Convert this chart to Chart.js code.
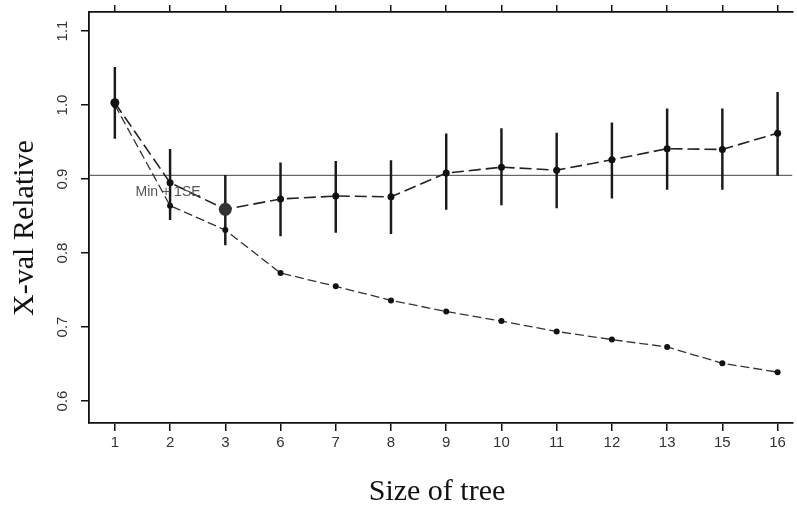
<!DOCTYPE html>
<html>
<head>
<meta charset="utf-8">
<script src="https://cdn.jsdelivr.net/npm/chart.js@4"></script>
<style>
  html, body { margin: 0; padding: 0; background: #fff; }
  #wrap { width: 797px; height: 505px; }
</style>
</head>
<body>
<div id="wrap"><canvas id="cv" width="797" height="505"></canvas></div>
<script>
  // tree sizes (categories on the x axis)
  var treeSizes = ['1', '2', '3', '6', '7', '8', '9', '10', '11', '12', '13', '15', '16'];
  // cross-validated relative error, with the +/- 1 SE bars
  var xvalRel = [1.003, 0.895, 0.859, 0.873, 0.877, 0.876, 0.908, 0.916, 0.912, 0.926, 0.941, 0.940, 0.962];
  var xvalLow = [0.955, 0.845, 0.811, 0.823, 0.828, 0.826, 0.859, 0.865, 0.861, 0.874, 0.886, 0.886, 0.905];
  var xvalHigh = [1.051, 0.940, 0.905, 0.922, 0.924, 0.925, 0.961, 0.968, 0.962, 0.976, 0.995, 0.995, 1.017];
  // resubstitution (apparent) relative error
  var apparentRel = [1.000, 0.864, 0.831, 0.773, 0.755, 0.736, 0.721, 0.708, 0.694, 0.683, 0.673, 0.651, 0.639];
  var minPlus1SE = 0.905;
  var yTicks = [0.6, 0.7, 0.8, 0.9, 1.0, 1.1];

  var xMin = -0.468, xMax = 12.27;
  var yMin = 0.5703, yMax = 1.1257;

  var idx = treeSizes.map(function (s, i) { return i; });
  function pts(arr) { return arr.map(function (v, i) { return { x: i, y: v }; }); }

  var sans = 'Liberation Sans, Arial, sans-serif';
  var serif = 'Liberation Serif, Times New Roman, serif';

  var overlay = {
    id: 'overlay',
    afterDraw: function (chart) {
      var ctx = chart.ctx;
      var ys = chart.scales.y, xs = chart.scales.x;
      ctx.save();
      // rotated y tick labels, R style
      ctx.fillStyle = '#333';
      ctx.font = '15px ' + sans;
      ctx.textAlign = 'center';
      ctx.textBaseline = 'middle';
      yTicks.forEach(function (v) {
        ctx.save();
        ctx.translate(63, ys.getPixelForValue(v));
        ctx.rotate(-Math.PI / 2);
        ctx.fillText(v.toFixed(1), 0, 0);
        ctx.restore();
      });
      // label for the 1-SE rule line
      ctx.fillStyle = '#555';
      ctx.font = '14px ' + sans;
      ctx.fillText('Min + 1SE', xs.getPixelForValue(1) - 2, ys.getPixelForValue(minPlus1SE - 0.023));

      // axis titles
      ctx.fillStyle = '#111';
      ctx.font = '30px ' + serif;
      ctx.textBaseline = 'alphabetic';
      ctx.fillText('Size of tree', 437, 500);
      ctx.save();
      ctx.translate(33, 228);
      ctx.rotate(-Math.PI / 2);
      ctx.fillText('X-val Relative', 0, 0);
      ctx.restore();
      ctx.restore();
    }
  };

  var ctx = document.getElementById('cv').getContext('2d');
  new Chart(ctx, {
    type: 'line',
    data: {
      datasets: [
        {
          type: 'line',
          data: pts(xvalRel),
          borderColor: '#222',
          borderWidth: 1.6,
          borderDash: [12, 5],
          pointRadius: [4.5, 3.5, 6.5, 3.5, 3.5, 3.5, 3.5, 3.5, 3.5, 3.5, 3.5, 3.5, 3.5],
          pointBackgroundColor: ['#111', '#111', '#333', '#111', '#111', '#111', '#111', '#111', '#111', '#111', '#111', '#111', '#111'],
          pointBorderWidth: 0,
          tension: 0,
          order: 1
        },
        {
          type: 'line',
          data: pts(apparentRel),
          borderColor: '#333',
          borderWidth: 1.3,
          borderDash: [9, 4],
          pointRadius: 3,
          pointBackgroundColor: '#111',
          pointBorderWidth: 0,
          tension: 0,
          order: 2
        },
        {
          type: 'bar',
          data: xvalLow.map(function (lo, i) { return { x: i, y: [lo, xvalHigh[i]] }; }),
          backgroundColor: '#1a1a1a',
          barThickness: 1.8,
          grouped: false,
          order: 3
        },
        {
          type: 'line',
          data: [{ x: xMin, y: minPlus1SE }, { x: xMax, y: minPlus1SE }],
          borderColor: '#444',
          borderWidth: 1,
          pointRadius: 0,
          order: 4
        }
      ]
    },
    options: {
      responsive: false,
      animation: false,
      layout: { padding: 0 },
      plugins: { legend: { display: false }, tooltip: { enabled: false } },
      scales: {
        x: {
          type: 'linear',
          position: 'bottom',
          min: xMin,
          max: xMax,
          offset: false,
          afterBuildTicks: function (s) { s.ticks = idx.map(function (v) { return { value: v }; }); },
          afterFit: function (s) { s.height = 82; },
          grid: { drawOnChartArea: false, offset: false, tickLength: 8, color: '#111', lineWidth: 1.5 },
          border: { color: '#111', width: 1.8 },
          ticks: {
            padding: 3,
            color: '#333',
            font: { family: sans, size: 15 },
            autoSkip: false,
            maxRotation: 0,
            callback: function (v) { return treeSizes[v]; }
          }
        },
        x2: {
          type: 'linear',
          position: 'top',
          min: xMin,
          max: xMax,
          offset: false,
          afterBuildTicks: function (s) { s.ticks = idx.map(function (v) { return { value: v }; }); },
          afterFit: function (s) { s.height = 12; },
          grid: { drawOnChartArea: false, offset: false, tickLength: 7, color: '#111', lineWidth: 1.5 },
          border: { color: '#111', width: 1.8 },
          ticks: { display: false }
        },
        y: {
          type: 'linear',
          position: 'left',
          min: yMin,
          max: yMax,
          afterBuildTicks: function (s) { s.ticks = yTicks.map(function (v) { return { value: v }; }); },
          afterFit: function (s) { s.width = 89; },
          grid: { drawOnChartArea: false, tickLength: 8, color: '#111', lineWidth: 1.5 },
          border: { color: '#111', width: 1.8 },
          ticks: { display: false }
        }
      }
    },
    plugins: [overlay]
  });
</script>
</body>
</html>
